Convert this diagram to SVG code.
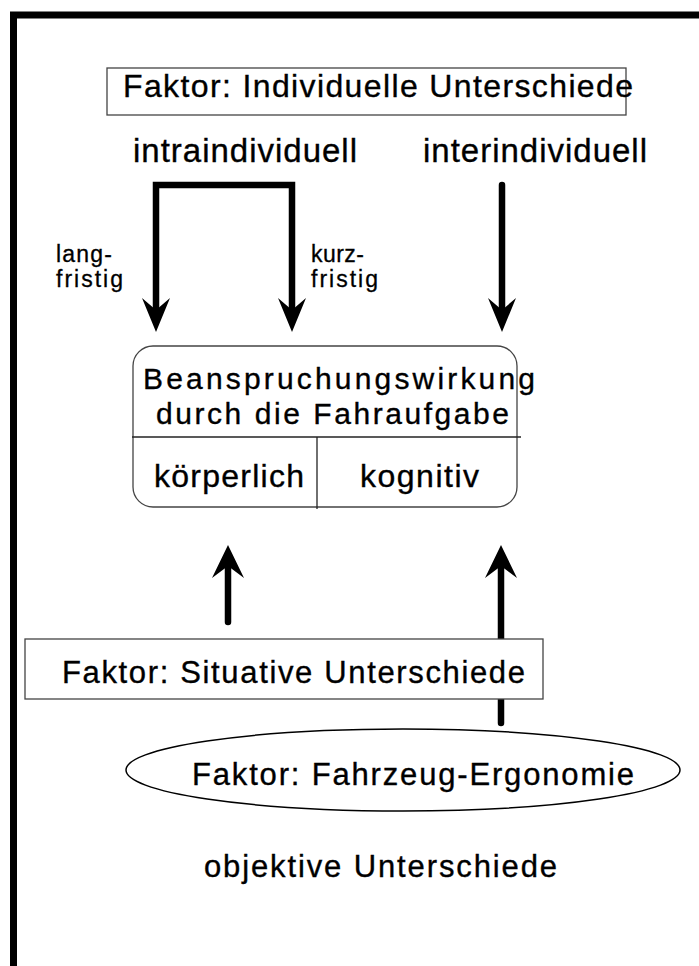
<svg xmlns="http://www.w3.org/2000/svg" width="699" height="966" viewBox="0 0 699 966">
<defs>
<style>
text{font-family:"Liberation Sans",Arial,sans-serif;fill:#000;stroke:#000;stroke-width:0.35}
.s32{font-size:32px}
.s33{font-size:33px}
.s31{font-size:31px}
.s30{font-size:30px}
.small{font-size:23px;stroke-width:0.3}
.box{fill:#fff;stroke:#444;stroke-width:1.3}
.conn{fill:none;stroke:#000;stroke-width:6.5;stroke-linecap:round;stroke-linejoin:miter}
.div{stroke:#222;stroke-width:1.3}
</style>
</defs>
<rect x="13.5" y="15" width="800" height="1000" fill="#fff" stroke="#000" stroke-width="7"/>
<g id="connectors">
<path class="conn" d="M156 318 V185 H292 V318"/>
<path d="M142 298 L156 332 L170 298 L156 310 Z"/>
<path d="M278 298 L292 332 L306 298 L292 310 Z"/>
<path class="conn" d="M502 185 V318"/>
<path d="M488 298 L502 332 L516 298 L502 310 Z"/>
<path class="conn" d="M228 622 V560"/>
<path d="M212 578 L228 545 L244 578 L228 566 Z"/>
<path class="conn" d="M501 723 V560"/>
<path d="M485 578 L501 545 L517 578 L501 566 Z"/>
</g>
<g id="individuelle">
<rect class="box" x="107" y="68" width="519" height="47"/>
<text class="s32" x="123" y="97" textLength="510" lengthAdjust="spacing">Faktor: Individuelle Unterschiede</text>
</g>
<g id="intra">
<text class="s33" x="133" y="162" textLength="224" lengthAdjust="spacing">intraindividuell</text>
</g>
<g id="inter">
<text class="s33" x="423" y="162" textLength="224" lengthAdjust="spacing">interindividuell</text>
</g>
<g id="langfristig">
<text class="small" x="56" y="262" textLength="56" lengthAdjust="spacing">lang-</text>
<text class="small" x="56" y="287" textLength="67" lengthAdjust="spacing">fristig</text>
</g>
<g id="kurzfristig">
<text class="small" x="311" y="262" textLength="53" lengthAdjust="spacing">kurz-</text>
<text class="small" x="311" y="287" textLength="67" lengthAdjust="spacing">fristig</text>
</g>
<g id="beanspruchung">
<rect class="box" x="133" y="346" width="384" height="161" rx="20" ry="20"/>
<line class="div" x1="132" y1="437" x2="521" y2="437"/>
<line class="div" x1="317" y1="437" x2="317" y2="509"/>
<text class="s30" x="143" y="389" textLength="392" lengthAdjust="spacing">Beanspruchungswirkung</text>
<text class="s30" x="156" y="424" textLength="353" lengthAdjust="spacing">durch die Fahraufgabe</text>
<text class="s32" x="154" y="487" textLength="150" lengthAdjust="spacing">körperlich</text>
<text class="s32" x="360" y="487" textLength="119" lengthAdjust="spacing">kognitiv</text>
</g>
<g id="situative">
<rect class="box" x="25" y="639" width="518" height="60"/>
<text class="s31" x="62" y="683" textLength="463" lengthAdjust="spacing">Faktor: Situative Unterschiede</text>
</g>
<g id="ergonomie">
<ellipse cx="403" cy="770" rx="277" ry="41" fill="#fff" stroke="#000" stroke-width="1.5"/>
<text class="s31" x="192" y="785" textLength="442" lengthAdjust="spacing">Faktor: Fahrzeug-Ergonomie</text>
</g>
<g id="objektiv">
<text class="s31" x="204" y="877" textLength="353" lengthAdjust="spacing">objektive Unterschiede</text>
</g>
</svg>
